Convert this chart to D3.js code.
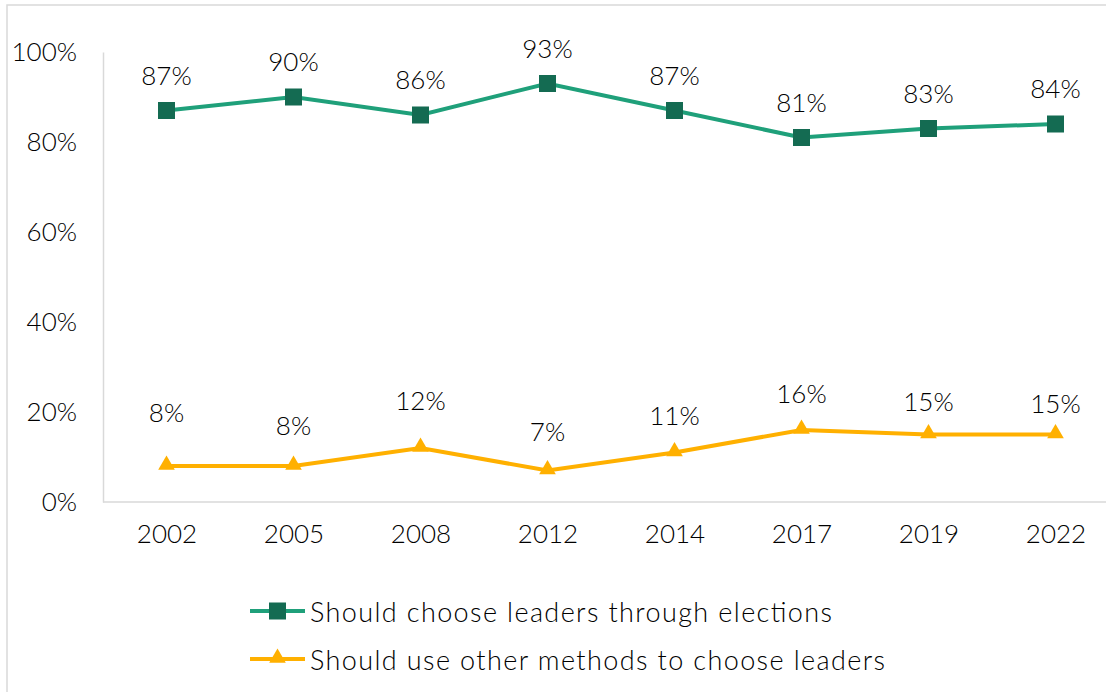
<!DOCTYPE html>
<html>
<head>
<meta charset="utf-8">
<script src="https://cdn.jsdelivr.net/npm/d3@7"></script>
<style>
  html, body { margin: 0; padding: 0; background: #fff; overflow: hidden; }
  svg { display: block; }
  text { font-family: "Century Gothic", Lato, "DejaVu Sans", sans-serif; font-weight: 300; fill: #000; }
</style>
</head>
<body>
<svg id="chart" width="1106" height="692"></svg>
<script>
// Survey years
const years = ["2002", "2005", "2008", "2012", "2014", "2017", "2019", "2022"];
// Share of respondents (percent)
const electionsShare = [87, 90, 86, 93, 87, 81, 83, 84];
const otherMethodsShare = [8, 8, 12, 7, 11, 16, 15, 15];
// Axis ticks
const yTicks = [0, 20, 40, 60, 80, 100];
// Series names
const seriesNames = [
  "Should choose leaders through elections",
  "Should use other methods to choose leaders"
];

// Per-point vertical lift of the value labels (px above the marker)
const electionsLabelLift = [36, 36, 36, 36, 36, 36, 36, 36];
const otherLabelLift = [54, 41, 48, 40, 38, 37, 34, 32];

const svg = d3.select("#chart");
const W = 1106, H = 692;
const plot = { left: 103, right: 1119, top: 52, bottom: 502 };

const x = d3.scalePoint().domain(years).range([plot.left, plot.right]).padding(0.5);
const y = d3.scaleLinear().domain([0, 100]).range([plot.bottom, plot.top]);

const axisGrey = "#d9d9d9";
const green = "#1fa07a", greenDark = "#146b52";
const orange = "#ffb000";
const fontSize = "26px";

// Outer chart frame
svg.append("rect")
  .attr("x", 7).attr("y", 5)
  .attr("width", 1140).attr("height", 720)
  .attr("fill", "none").attr("stroke", axisGrey).attr("stroke-width", 1.5);

// Y axis
const yAxis = svg.append("g")
  .attr("transform", `translate(${plot.left},0)`)
  .call(d3.axisLeft(y).tickValues(yTicks).tickFormat(d => d + "%").tickSize(0).tickPadding(26));
yAxis.select(".domain").attr("stroke", axisGrey).attr("stroke-width", 1.5);

// X axis
const xAxis = svg.append("g")
  .attr("transform", `translate(0,${plot.bottom})`)
  .call(d3.axisBottom(x).tickSize(0).tickPadding(23));
xAxis.select(".domain").attr("stroke", axisGrey).attr("stroke-width", 1.5)
  .attr("d", `M${plot.left},0H${W + 10}`);

svg.selectAll(".tick text")
  .attr("font-family", null).attr("font-size", null)
  .style("font-size", fontSize).attr("fill", "#000");

const line = d3.line().x((d, i) => x(years[i])).y(d => y(d));

// Elections series
svg.append("path").datum(electionsShare)
  .attr("d", line).attr("fill", "none").attr("stroke", green).attr("stroke-width", 4);
svg.selectAll(".sq").data(electionsShare).join("rect")
  .attr("x", (d, i) => x(years[i]) - 8.5).attr("y", d => y(d) - 8.5)
  .attr("width", 17).attr("height", 17).attr("fill", greenDark);
svg.selectAll(".lblE").data(electionsShare).join("text")
  .attr("x", (d, i) => x(years[i]))
  .attr("y", (d, i) => y(d) - electionsLabelLift[i])
  .attr("text-anchor", "middle").attr("dominant-baseline", "central")
  .style("font-size", fontSize).text(d => d + "%");

// Other-methods series
const tri = d3.symbol().type(d3.symbolTriangle).size(120);
svg.append("path").datum(otherMethodsShare)
  .attr("d", line).attr("fill", "none").attr("stroke", orange).attr("stroke-width", 4);
svg.selectAll(".tri").data(otherMethodsShare).join("path")
  .attr("d", tri)
  .attr("transform", (d, i) => `translate(${x(years[i])},${y(d) - 1})`)
  .attr("fill", orange);
svg.selectAll(".lblO").data(otherMethodsShare).join("text")
  .attr("x", (d, i) => x(years[i]))
  .attr("y", (d, i) => y(d) - otherLabelLift[i])
  .attr("text-anchor", "middle").attr("dominant-baseline", "central")
  .style("font-size", fontSize).text(d => d + "%");

// Legend
const legend = svg.append("g");
const legendRows = [
  { name: seriesNames[0], color: green, mark: "square", y: 611, width: 522 },
  { name: seriesNames[1], color: orange, mark: "triangle", y: 659, width: 575 }
];
legendRows.forEach(r => {
  legend.append("line")
    .attr("x1", 250).attr("x2", 305).attr("y1", r.y).attr("y2", r.y)
    .attr("stroke", r.color).attr("stroke-width", 4);
  if (r.mark === "square") {
    legend.append("rect").attr("x", 269).attr("y", r.y - 8.5)
      .attr("width", 17).attr("height", 17).attr("fill", greenDark);
  } else {
    legend.append("path").attr("d", tri)
      .attr("transform", `translate(277.5,${r.y - 1})`).attr("fill", orange);
  }
  legend.append("text").attr("x", 310).attr("y", r.y)
    .attr("dominant-baseline", "central")
    .attr("textLength", r.width).attr("lengthAdjust", "spacing")
    .style("font-size", "27px").text(r.name);
});
</script>
</body>
</html>
